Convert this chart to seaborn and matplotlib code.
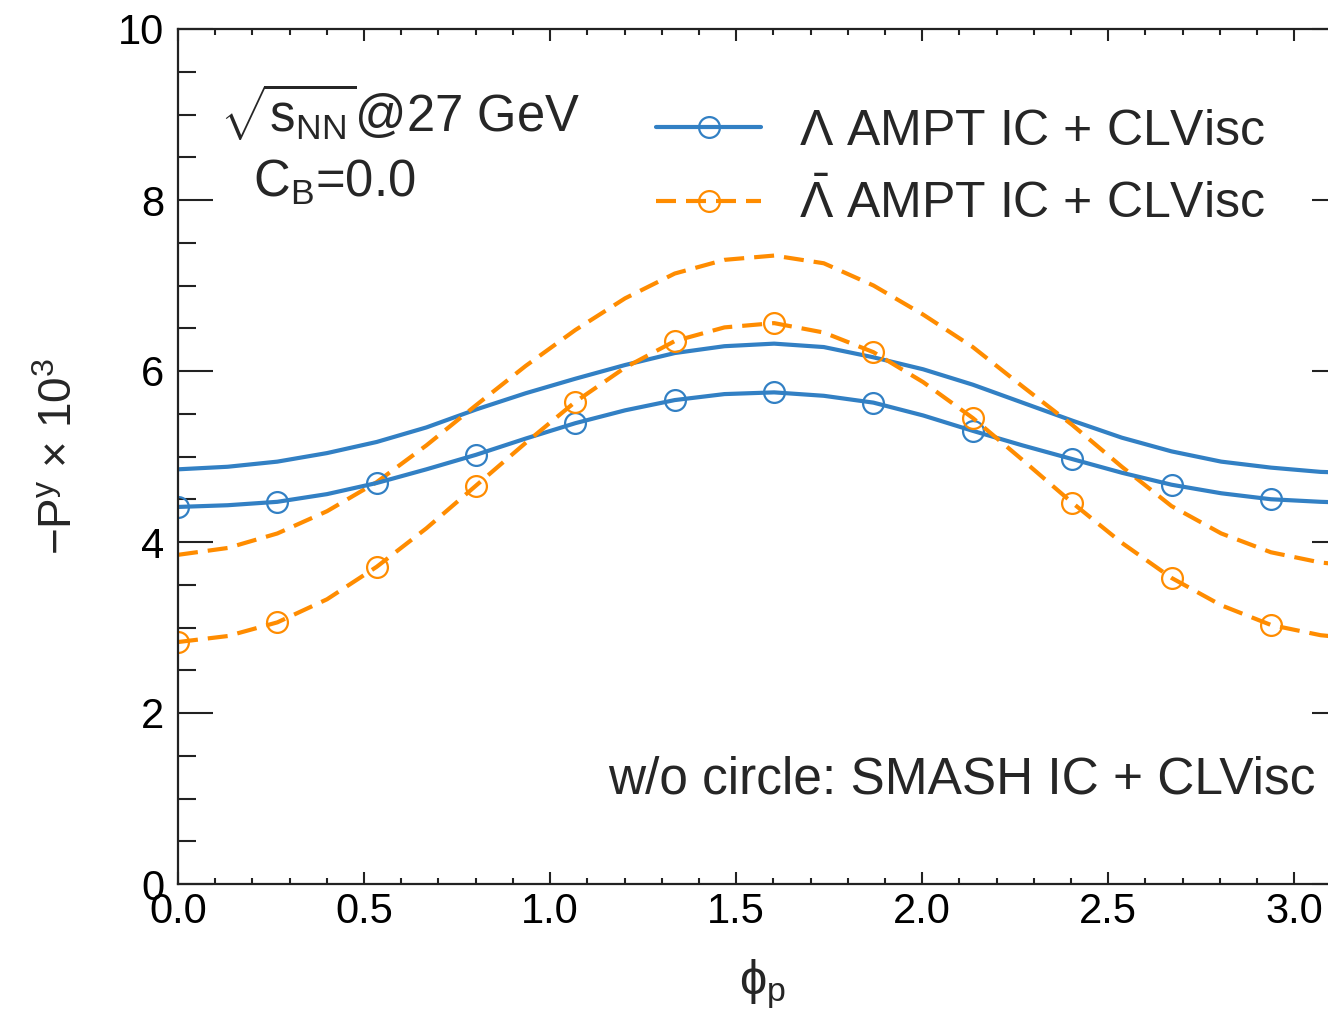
import numpy as np
import pandas as pd
import matplotlib
matplotlib.use("Agg")
import matplotlib.pyplot as plt
from matplotlib.ticker import MultipleLocator
import seaborn as sns

# ---------------- data ----------------
phi = [0.0, 0.1335, 0.267, 0.4005, 0.534, 0.6675, 0.801, 0.9345, 1.068, 1.2015,
       1.335, 1.4685, 1.602, 1.7355, 1.869, 2.0025, 2.136, 2.2695, 2.403, 2.5365,
       2.670, 2.8035, 2.937, 3.0705, 3.1416]

lam_ampt = [4.41, 4.43, 4.47, 4.56, 4.69, 4.85, 5.02, 5.21, 5.39, 5.54,
            5.66, 5.73, 5.75, 5.71, 5.63, 5.48, 5.30, 5.13, 4.97, 4.81,
            4.67, 4.57, 4.50, 4.47, 4.46]
alam_ampt = [2.83, 2.90, 3.06, 3.33, 3.71, 4.16, 4.66, 5.16, 5.64, 6.04,
             6.35, 6.51, 6.56, 6.45, 6.22, 5.87, 5.45, 4.96, 4.46, 3.99,
             3.58, 3.26, 3.03, 2.91, 2.88]
lam_smash = [4.85, 4.88, 4.94, 5.04, 5.17, 5.34, 5.55, 5.74, 5.91, 6.07,
             6.21, 6.29, 6.32, 6.28, 6.16, 6.02, 5.84, 5.63, 5.42, 5.22,
             5.06, 4.94, 4.87, 4.82, 4.81]
alam_smash = [3.85, 3.93, 4.10, 4.36, 4.70, 5.13, 5.60, 6.06, 6.48, 6.85,
              7.14, 7.30, 7.35, 7.26, 7.00, 6.66, 6.28, 5.82, 5.37, 4.88,
              4.42, 4.10, 3.88, 3.76, 3.73]

x_ticks = [0.0, 0.5, 1.0, 1.5, 2.0, 2.5, 3.0]
y_ticks = [0, 2, 4, 6, 8, 10]

labels = [r"$\Lambda$ AMPT IC + CLVisc", r"$\bar{\Lambda}$ AMPT IC + CLVisc"]

# ---------------- style ----------------
sns.set_theme(style="ticks")
plt.rcParams["font.family"] = ["Liberation Sans", "DejaVu Sans"]
plt.rcParams["mathtext.fontset"] = "custom"
plt.rcParams["mathtext.rm"] = "Liberation Sans"
plt.rcParams["mathtext.it"] = "Liberation Sans"
plt.rcParams["mathtext.sf"] = "Liberation Sans"
plt.rcParams["mathtext.default"] = "regular"

BLUE = "#3280c4"
ORANGE = "#ff8c00"
DASH = (0, (4.8, 2.4))

fig = plt.figure(figsize=(13.28, 10.24), dpi=100)
ax = fig.add_axes([178 / 1328, 1 - 884 / 1024, (1347 - 178) / 1328, (884 - 29) / 1024])

df = pd.DataFrame({"phi": phi, "lam_ampt": lam_ampt, "alam_ampt": alam_ampt,
                   "lam_smash": lam_smash, "alam_smash": alam_smash})
mk = list(range(0, 24, 2))

lw = 3.0
sns.lineplot(data=df, x="phi", y="lam_smash", ax=ax, color=BLUE, lw=lw,
             estimator=None, sort=False)
sns.lineplot(data=df, x="phi", y="alam_smash", ax=ax, color=ORANGE, lw=lw,
             estimator=None, sort=False, dashes=False, linestyle=DASH)
sns.lineplot(data=df, x="phi", y="lam_ampt", ax=ax, color=BLUE, lw=lw,
             estimator=None, sort=False, marker="o", markersize=15,
             markerfacecolor="none", markeredgecolor=BLUE, markeredgewidth=1.6,
             markevery=mk, label=labels[0])
sns.lineplot(data=df, x="phi", y="alam_ampt", ax=ax, color=ORANGE, lw=lw,
             estimator=None, sort=False, marker="o", markersize=15,
             markerfacecolor="none", markeredgecolor=ORANGE, markeredgewidth=1.6,
             markevery=mk, dashes=False, linestyle=DASH, label=labels[1])

ax.set_xlim(0, np.pi)
ax.set_ylim(0, 10)
ax.set_xticks(x_ticks)
ax.set_yticks(y_ticks)
ax.set_xticklabels([f"{t:.1f}" for t in x_ticks])
ax.set_yticklabels([str(t) for t in y_ticks])
ax.xaxis.set_minor_locator(MultipleLocator(0.1))
ax.yaxis.set_minor_locator(MultipleLocator(0.5))

ax.tick_params(axis="both", which="both", direction="in", top=True, right=True,
               colors="#222222", width=1.5, labelsize=30, labelcolor="black")
ax.tick_params(axis="x", which="major", length=8.5, pad=6)
ax.tick_params(axis="x", which="minor", length=4.5)
ax.tick_params(axis="y", which="major", length=25, pad=10)
ax.tick_params(axis="y", which="minor", length=13)
for s in ax.spines.values():
    s.set_linewidth(1.6)
    s.set_color("#222222")

ax.set_xlabel(r"ϕ$_p$", fontsize=35, labelpad=18)
ax.set_ylabel(r"$-$P$^y$ $\times$ 10$^3$", fontsize=33, labelpad=26)

leg = ax.legend(loc="upper left", bbox_to_anchor=(0.392, 0.93), frameon=False,
                fontsize=36, handlelength=2.1, handletextpad=0.75, labelspacing=0.5,
                borderaxespad=0)

ax.text(0.036, 0.902, r"$\sqrt{s_{NN}}$@27 GeV", transform=ax.transAxes,
        fontsize=36.5, ha="left", va="center")
ax.text(0.064, 0.82, r"C$_B$=0.0", transform=ax.transAxes,
        fontsize=36.5, ha="left", va="center")
ax.text(0.9726, 0.1216, "w/o circle: SMASH IC + CLVisc", transform=ax.transAxes,
        fontsize=37, ha="right", va="center")

fig.savefig("out.png", dpi=100)
